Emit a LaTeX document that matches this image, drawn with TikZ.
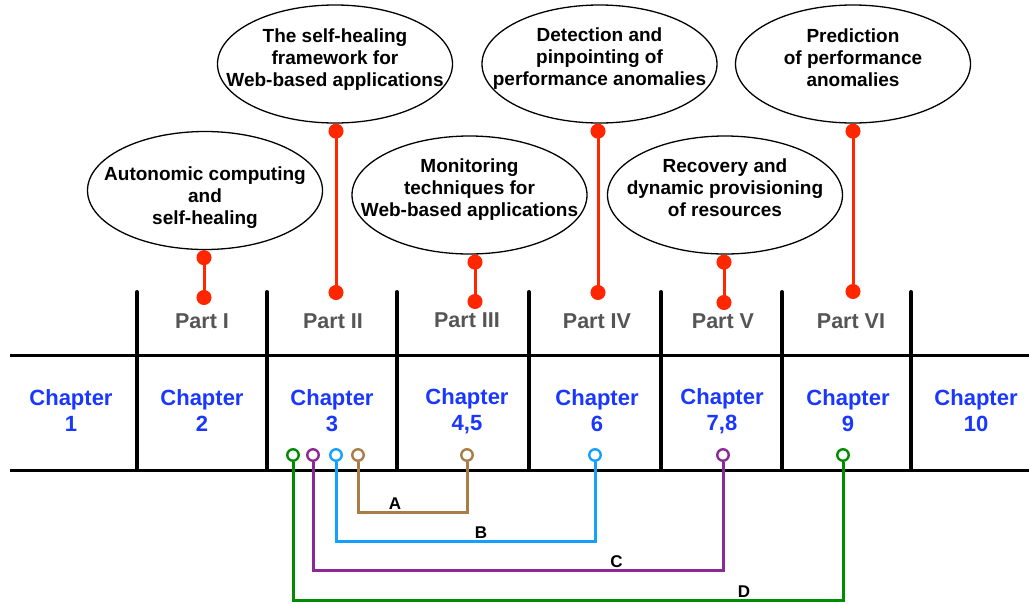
\documentclass[tikz,border=0pt]{standalone}
\usepackage{fontspec}
\setmainfont{Liberation Sans}
\usepackage{xcolor}
\usepackage{tikz}
\usetikzlibrary{shapes.geometric, arrows.meta, positioning}
\definecolor{stemred}{RGB}{255,38,0}
\definecolor{chapblue}{RGB}{25,55,255}
\definecolor{partgray}{RGB}{85,85,85}
\definecolor{linkA}{RGB}{170,125,72}
\definecolor{linkB}{RGB}{20,160,255}
\definecolor{linkC}{RGB}{140,40,150}
\definecolor{linkD}{RGB}{0,140,0}
% text of a bubble, kept out of the ellipse size, raised by #1
\newcommand{\bubble}[2]{\makebox[0pt]{\raisebox{#1}[0pt][0pt]{\begin{tabular}{c}#2\end{tabular}}}}
\tikzset{
  % Topic bubbles and their stems
  topic/.style={ellipse, draw=black, line width=1.3pt, minimum width=235pt, minimum height=118pt, inner sep=0pt, font=\fontsize{19}{22}\selectfont\bfseries},
  stem/.style={{Circle[length=15pt]}-{Circle[length=15pt]}, draw=stemred, line width=3pt},
  % Part / chapter strip
  partlabel/.style={font=\fontsize{21.5}{26}\selectfont\bfseries, text=partgray},
  chapbox/.style={align=center, font=\fontsize{22}{26}\selectfont\bfseries, text=chapblue},
  rule/.style={line width=3pt},
  divider/.style={line width=4pt, line cap=round},
  % Reading paths
  ring/.style={circle, draw=#1, line width=2.4pt, minimum size=11.5pt, inner sep=0pt, fill=white},
  link/.style={draw=#1, line width=3pt},
  linklabel/.style={above, inner sep=2pt, font=\fontsize{17}{19}\selectfont\bfseries},
}
\begin{document}
\begin{tikzpicture}[x=1pt, y=-1pt]
    \useasboundingbox (0,0) rectangle (1029,603);

    % Strip
    \draw[rule] (10,355) -- (1029,355);
    \draw[rule] (10,470) -- (1029,470);
    \draw[divider] (137,292) -- (137,470);
    \draw[divider] (267,292) -- (267,470);
    \draw[divider] (397,292) -- (397,470);
    \draw[divider] (529,292) -- (529,470);
    \draw[divider] (661,292) -- (661,470);
    \draw[divider] (782,292) -- (782,470);
    \draw[divider] (911,292) -- (911,470);

    % Parts
    \node[partlabel] (p1) at (202,321) {Part I};
    \node[partlabel] (p2) at (333,321) {Part II};
    \node[partlabel] (p3) at (467,320) {Part III};
    \node[partlabel] (p4) at (597,321) {Part IV};
    \node[partlabel] (p5) at (723,321) {Part V};
    \node[partlabel] (p6) at (851,321) {Part VI};

    % Chapters
    \node[chapbox] (c1) at (71,411) {Chapter\\1};
    \node[chapbox] (c2) at (202,411) {Chapter\\2};
    \node[chapbox] (c3) at (332,411) {Chapter\\3};
    \node[chapbox] (c4) at (467,411) {Chapter\\4,5};
    \node[chapbox] (c5) at (597,411) {Chapter\\6};
    \node[chapbox] (c6) at (722,411) {Chapter\\7,8};
    \node[chapbox] (c7) at (848,411) {Chapter\\9};
    \node[chapbox] (c8) at (976,411) {Chapter\\10};

    % Topics
    \node[topic] (t1) at (205,190.5) {\bubble{-12pt}{Autonomic computing\\and\\self-healing}};
    \node[topic] (t2) at (335,64) {\bubble{0pt}{The self-healing\\framework for\\Web-based applications}};
    \node[topic] (t3) at (469.5,195) {\bubble{1pt}{Monitoring\\techniques for\\Web-based applications}};
    \node[topic] (t4) at (599.5,64) {\bubble{1pt}{Detection and\\pinpointing of\\performance anomalies}};
    \node[topic] (t5) at (725,195) {\bubble{1pt}{Recovery and\\dynamic provisioning\\of resources}};
    \node[topic] (t6) at (853,64) {\bubble{-0.5pt}{Prediction\\of performance\\anomalies}};

    % Stems from topics down to parts
    \coordinate (s1) at (204,305);
    \coordinate (s2) at (336,300);
    \coordinate (s3) at (475,309);
    \coordinate (s4) at (598,300);
    \coordinate (s5) at (724,310);
    \coordinate (s6) at (853,299);
    \draw[stem] (s1 |- t1.south) -- (s1);
    \draw[stem] (s2 |- t2.south) -- (s2);
    \draw[stem] (s3 |- t3.south) -- (s3);
    \draw[stem] (s4 |- t4.south) -- (s4);
    \draw[stem] (s5 |- t5.south) -- (s5);
    \draw[stem] (s6 |- t6.south) -- (s6);

    % Reading paths
    \node[ring=linkD] (d1) at (293,455) {};
    \node[ring=linkC] (r1) at (313,455) {};
    \node[ring=linkB] (b1) at (336,455) {};
    \node[ring=linkA] (a1) at (358,455) {};
    \node[ring=linkA] (a2) at (467,455) {};
    \node[ring=linkB] (b2) at (595,455) {};
    \node[ring=linkC] (r2) at (723,455) {};
    \node[ring=linkD] (d2) at (843,455) {};
    \draw[link=linkA] (a1.south) -- ++(0,51) -| node[linklabel, pos=.17] {A} (a2.south);
    \draw[link=linkB] (b1.south) -- ++(0,80) -| node[linklabel, pos=.28] {B} (b2.south);
    \draw[link=linkC] (r1.south) -- ++(0,109) -| node[linklabel, pos=.37] {C} (r2.south);
    \draw[link=linkD] (d1.south) -- ++(0,139) -| node[linklabel, pos=.41] {D} (d2.south);
  \end{tikzpicture}
\end{document}
